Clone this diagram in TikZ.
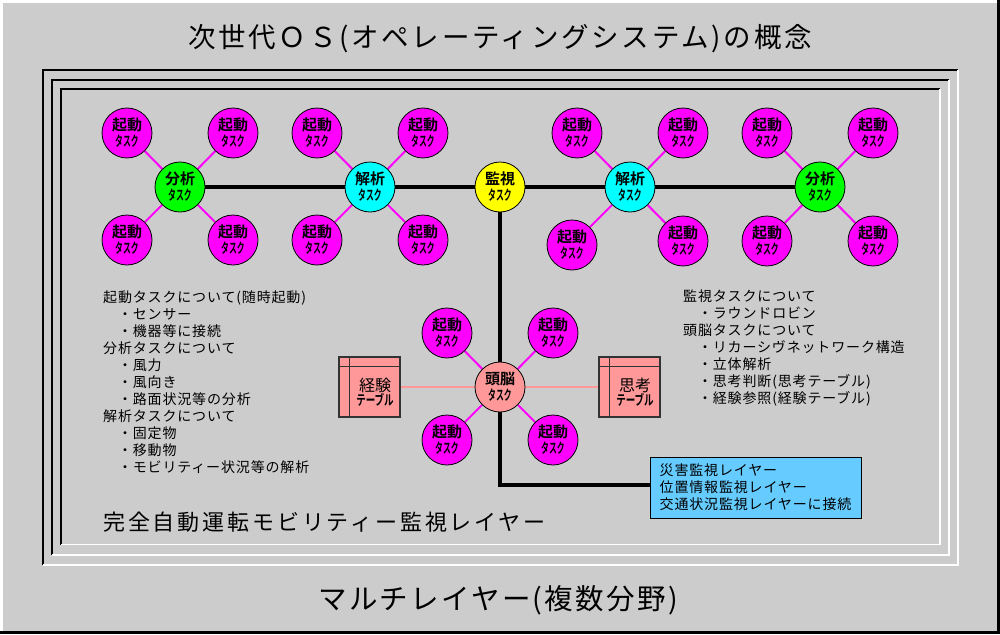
\documentclass[tikz,border=0pt]{standalone}
\usepackage{fontspec}
\usepackage{graphicx}
\setmainfont{Noto Sans CJK JP}[BoldFont={Noto Sans CJK JP Bold}]
\newfontfamily\ttlfont{Noto Sans CJK JP}[LetterSpace=10]
\newfontfamily\multfont{Noto Sans CJK JP}[LetterSpace=8]
\newfontfamily\layfont{Noto Sans CJK JP}[LetterSpace=13]
\newfontfamily\bodyfont{Noto Sans CJK JP}[LetterSpace=6]
\newfontfamily\boxfont{Noto Sans CJK JP}[LetterSpace=6]
\definecolor{bggrey}{HTML}{CCCCCC}
\definecolor{mag}{HTML}{FF00FF}
\definecolor{grn}{HTML}{00FF00}
\definecolor{cyn}{HTML}{00FFFF}
\definecolor{yel}{HTML}{FFFF00}
\definecolor{salm}{HTML}{FF9999}
\definecolor{skyb}{HTML}{66CCFF}
\newcommand{\tsk}[1]{#1\\{\fontsize{14}{16}\selectfont\scalebox{0.56}[1]{タスク}}}
\newcommand{\tbl}[1]{{\fontsize{16}{18}\selectfont #1}\\{\fontsize{14}{18}\selectfont\bfseries\scalebox{0.68}[1]{テーブル}}}
\pgfdeclarelayer{back}
\pgfdeclarelayer{edges}
\pgfsetlayers{back,edges,main}
\begin{document}
\begin{tikzpicture}[x=1pt,y=-1pt,
  sat/.style={circle,draw=black,line width=0.8pt,fill=mag,minimum size=50pt,inner sep=0pt,align=center,font=\fontsize{15}{16}\selectfont\bfseries},
  hub/.style={sat,fill=#1},
  tablebox/.style={rectangle,draw=black!80,line width=1.5pt,fill=salm,minimum width=61pt,minimum height=60pt,inner sep=0pt},
  tbltext/.style={align=center,inner sep=0pt},
  mline/.style={draw=mag,line width=2pt},
  bline/.style={draw=black,line width=4pt},
  sline/.style={draw=salm,line width=1.2pt},
  bodytxt/.style={anchor=base west,inner sep=0pt,font=\bodyfont\fontsize{14}{17}\selectfont},
  frameblack/.style={draw=black,line width=2pt},
  framewhite/.style={draw=white,line width=1.6pt}
]
\useasboundingbox (0,0) rectangle (1000,634);
\begin{pgfonlayer}{back}
\fill[bggrey] (0,0) rectangle (1000,634);
\draw[white,line width=3pt] (1.5,634) -- (1.5,1.5) -- (1000,1.5);
\draw[black,line width=3pt] (998.5,0) -- (998.5,632.5) -- (0,632.5);
\foreach \l/\t/\r/\b in {43/70/958/565, 52/80/949/555, 61/89/940/544.5}{
  \draw[frameblack] (\l,\b) -- (\l,\t) -- (\r,\t);
  \draw[framewhite] (\r,\t) -- (\r,\b) -- (\l,\b);
}
\end{pgfonlayer}

% titles
\node[anchor=base,inner sep=0pt,font=\ttlfont\fontsize{27.5}{30}\selectfont] (title) at (500,48) {次世代ＯＳ(オペレーティングシステム)の概念};
\node[anchor=base,inner sep=0pt,font=\multfont\fontsize{28.5}{32}\selectfont] (multi) at (498,609) {マルチレイヤー(複数分野)};
\node[anchor=base west,inner sep=0pt,font=\layfont\fontsize{22}{24}\selectfont] (layer) at (103,530) {完全自動運転モビリティー監視レイヤー};

% hubs
\node[hub=grn] (bunL) at (180,187) {\tsk{分析}};
\node[hub=cyn] (kaiL) at (370,187) {\tsk{解析}};
\node[hub=yel] (kan) at (500,187) {\tsk{監視}};
\node[hub=cyn] (kaiR) at (630,187) {\tsk{解析}};
\node[hub=grn] (bunR) at (820,187) {\tsk{分析}};
\node[hub=salm] (zu) at (500,387) {\tsk{頭脳}};

% satellites
\node[sat] (a1) at (127,133) {\tsk{起動}};
\node[sat] (a2) at (233,133) {\tsk{起動}};
\node[sat] (a3) at (127,240) {\tsk{起動}};
\node[sat] (a4) at (233,240) {\tsk{起動}};
\node[sat] (b1) at (317,133) {\tsk{起動}};
\node[sat] (b2) at (423,133) {\tsk{起動}};
\node[sat] (b3) at (317,240) {\tsk{起動}};
\node[sat] (b4) at (423,240) {\tsk{起動}};
\node[sat] (c1) at (577,133) {\tsk{起動}};
\node[sat] (c2) at (683,133) {\tsk{起動}};
\node[sat] (c3) at (572,245) {\tsk{起動}};
\node[sat] (c4) at (683,241) {\tsk{起動}};
\node[sat] (d1) at (767,133) {\tsk{起動}};
\node[sat] (d2) at (873,133) {\tsk{起動}};
\node[sat] (d3) at (767,241) {\tsk{起動}};
\node[sat] (d4) at (873,241) {\tsk{起動}};
\node[sat] (e1) at (447,333) {\tsk{起動}};
\node[sat] (e2) at (553,333) {\tsk{起動}};
\node[sat] (e3) at (447,440) {\tsk{起動}};
\node[sat] (e4) at (553,440) {\tsk{起動}};

% tables
\node[tablebox] (keiken) at (369.5,387) {};
\node[tablebox] (shikou) at (629.5,387) {};
\draw[black!80,line width=1.5pt] ([xshift=11pt]keiken.north west) -- ([xshift=11pt]keiken.south west);
\draw[black!80,line width=1.5pt] ([yshift=-10pt]keiken.north west) -- ([yshift=-10pt]keiken.north east);
\draw[black!80,line width=1.5pt] ([xshift=11pt]shikou.north west) -- ([xshift=11pt]shikou.south west);
\draw[black!80,line width=1.5pt] ([yshift=-10pt]shikou.north west) -- ([yshift=-10pt]shikou.north east);
\node[tbltext] (keikent) at (375,392) {\tbl{経験}};
\node[tbltext] (shikout) at (635,392) {\tbl{思考}};

% blue box
\node[rectangle,draw=black,line width=1pt,fill=skyb,minimum width=211pt,minimum height=61pt,inner sep=0pt,align=left,font=\boxfont\fontsize{14}{17}\selectfont] (link) at (755.5,487.5) {災害監視レイヤー\\位置情報監視レイヤー\\交通状況監視レイヤーに接続};

% text lists
\foreach \t [count=\i] in {起動タスクについて(随時起動),　・センサー,　・機器等に接続,分析タスクについて,　・風力,　・風向き,　・路面状況等の分析,解析タスクについて,　・固定物,　・移動物,　・モビリティー状況等の解析}
  \node[bodytxt] (L\i) at (103,{285+17*\i}) {\t};
\foreach \t [count=\i] in {監視タスクについて,　・ラウンドロビン,頭脳タスクについて,　・リカーシヴネットワーク構造,　・立体解析,　・思考判断(思考テーブル),　・経験参照(経験テーブル)}
  \node[bodytxt] (R\i) at (683,{284+17*\i}) {\t};

\coordinate (bend) at (500,485);
\begin{pgfonlayer}{edges}
\draw[bline] (bunL) -- (kaiL) -- (kan) -- (kaiR) -- (bunR);
\draw[bline] (kan.center) -- (bend) -- (bend -| link.west);
\foreach \h/\s in {bunL/a1,bunL/a2,bunL/a3,bunL/a4,kaiL/b1,kaiL/b2,kaiL/b3,kaiL/b4,kaiR/c1,kaiR/c2,kaiR/c3,kaiR/c4,bunR/d1,bunR/d2,bunR/d3,bunR/d4,zu/e1,zu/e2,zu/e3,zu/e4}
  \draw[mline] (\h) -- (\s);
\draw[sline] (keiken) -- (zu);
\draw[sline] (zu) -- (shikou);
\end{pgfonlayer}
\end{tikzpicture}
\end{document}
